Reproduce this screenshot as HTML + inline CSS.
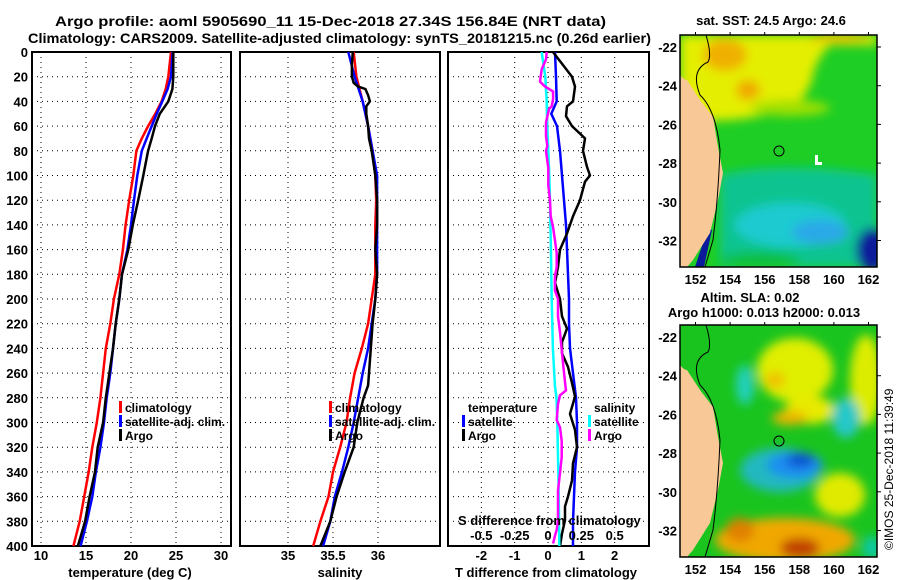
<!DOCTYPE html>
<html><head><meta charset="utf-8"><style>
html,body{margin:0;padding:0;background:#fff;}
svg{display:block;font-family:"Liberation Sans",sans-serif;font-weight:bold;}
</style></head><body>
<svg id="fig" width="900" height="580" viewBox="0 0 900 580" xmlns="http://www.w3.org/2000/svg">
<defs>
<filter id="bl" x="-20%" y="-20%" width="140%" height="140%"><feGaussianBlur stdDeviation="5"/></filter>
<clipPath id="c1"><rect x="680" y="35" width="197" height="232"/></clipPath>
<clipPath id="c2"><rect x="680" y="325" width="197" height="232"/></clipPath>
</defs>
<text x="55" y="26" font-size="14" textLength="551" lengthAdjust="spacingAndGlyphs">Argo profile: aoml 5905690_11 15-Dec-2018 27.34S 156.84E (NRT data)</text>
<text x="28" y="43" font-size="14" textLength="623" lengthAdjust="spacingAndGlyphs">Climatology: CARS2009. Satellite-adjusted climatology: synTS_20181215.nc (0.26d earlier)</text>

<g clip-path="url(#c1)">
<rect x="680" y="35" width="197" height="232" fill="#1ece24"/>
<g filter="url(#bl)">
<path d="M680 35 H877 V45 H830 Q815 60 812 80 Q805 100 790 108 Q760 118 730 120 L680 122 Z" fill="#e4ee00"/>
<ellipse cx="725" cy="55" rx="22" ry="16" fill="#f0b000"/>
<ellipse cx="748" cy="90" rx="12" ry="10" fill="#f0a800"/>
<ellipse cx="840" cy="38" rx="30" ry="5" fill="#f0c000"/>
<ellipse cx="790" cy="108" rx="40" ry="8" fill="#a0e000"/>
<path d="M720 175 Q780 160 877 175 V267 H720 Z" fill="#10c490"/>
<ellipse cx="790" cy="225" rx="55" ry="22" fill="#1ccad0"/>
<ellipse cx="820" cy="232" rx="28" ry="12" fill="#2aa8e8"/>
<ellipse cx="872" cy="250" rx="16" ry="22" fill="#0a1a9a"/>
<ellipse cx="760" cy="260" rx="40" ry="8" fill="#10c040"/>
</g>
<path d="M712 230 L704 267 L695 267 L708 228 Z" fill="#0a1a9a"/>
<path d="M680 75 Q684 80 687 80 L700 100 L713 117 L718 147 L723 173 L718 200 L710 233 L693 260 L687 267 H680 Z" fill="#f8c896"/>
<path d="M706 35 Q712 55 708 62 Q690 70 700 95 Q716 110 720 150 Q718 200 713 240 L705 267" fill="none" stroke="#000" stroke-width="1"/>
<circle cx="779" cy="151" r="5" fill="none" stroke="#000" stroke-width="1"/>
<rect x="815" y="155" width="3" height="10" fill="#fff"/><rect x="815" y="162" width="7" height="3" fill="#fff"/>
</g>
<rect x="680" y="35" width="197" height="232" fill="none" stroke="#000" stroke-width="1.5"/>
<text x="771" y="25" font-size="13" text-anchor="middle">sat. SST: 24.5 Argo: 24.6</text>

<g clip-path="url(#c2)">
<rect x="680" y="325" width="197" height="232" fill="#1ac41e"/>
<g filter="url(#bl)">
<ellipse cx="795" cy="370" rx="38" ry="32" fill="#e0ee00"/>
<ellipse cx="810" cy="410" rx="25" ry="14" fill="#e8ea00"/>
<ellipse cx="790" cy="418" rx="18" ry="7" fill="#f0b400"/>
<ellipse cx="775" cy="380" rx="10" ry="8" fill="#f0c000"/>
<ellipse cx="866" cy="380" rx="16" ry="45" fill="#dcec00"/>
<ellipse cx="840" cy="495" rx="25" ry="22" fill="#e0ea00"/>
<ellipse cx="745" cy="385" rx="9" ry="20" fill="#22d0bc"/>
<ellipse cx="846" cy="418" rx="14" ry="20" fill="#28c8c8"/>
<ellipse cx="780" cy="470" rx="40" ry="22" fill="#20b8c0"/>
<ellipse cx="795" cy="465" rx="28" ry="13" fill="#1e8ef0"/>
<ellipse cx="800" cy="460" rx="14" ry="7" fill="#1050d0"/>
<ellipse cx="785" cy="540" rx="70" ry="22" fill="#f0a800"/>
<ellipse cx="800" cy="548" rx="20" ry="10" fill="#c04000"/>
<ellipse cx="740" cy="530" rx="14" ry="12" fill="#e08000"/>
<ellipse cx="872" cy="548" rx="10" ry="12" fill="#10c8a0"/>
</g>
<path d="M680 365 Q684 370 687 370 L700 390 L713 407 L718 437 L723 463 L718 490 L710 523 L693 550 L687 557 H680 Z" fill="#f8c896"/>
<path d="M706 325 Q712 345 708 352 Q690 360 700 385 Q716 400 720 440 Q718 490 713 530 L705 557" fill="none" stroke="#000" stroke-width="1"/>
<circle cx="779" cy="441" r="5" fill="none" stroke="#000" stroke-width="1"/>
</g>
<rect x="680" y="325" width="197" height="232" fill="none" stroke="#000" stroke-width="1.5"/>
<text x="750" y="302" font-size="13" text-anchor="middle">Altim. SLA: 0.02</text>
<text x="764" y="317" font-size="13" text-anchor="middle">Argo h1000: 0.013 h2000: 0.013</text>
<text transform="translate(893,550) rotate(-90)" font-size="12" font-weight="normal">©IMOS 25-Dec-2018 11:39:49</text>
</svg>
<script>
const depthTicks = [0,20,40,60,80,100,120,140,160,180,200,220,240,260,280,300,320,340,360,380,400];
const tempTicks = [10,15,20,25,30];
const salTicks = [35,35.5,36];
const tDiffTicks = [-2,-1,0,1,2];
const sDiffTicks = [-0.5,-0.25,0,0.25,0.5];

const tDepths = [0,20,30,40,50,60,70,80,100,120,140,160,180,200,220,240,260,280,300,320,340,360,380,400];
const tempClim = [24.44,24.15,23.85,23.4,22.7,21.9,21.2,20.6,20.26,19.8,19.4,19.1,18.7,18.1,17.7,17.2,16.9,16.6,16.2,15.7,15.3,14.8,14.3,13.6];
const tempSat = [24.63,24.44,24.07,23.48,22.85,22.3,21.74,21.2,20.7,20.33,20.0,19.6,19.0,18.7,18.3,18.0,17.7,17.3,17.0,16.6,16.1,15.7,15.1,14.4];
const tempArgo = [24.7,24.7,24.6,24.15,23.2,22.67,22.3,21.9,21.37,20.8,20.2,19.7,19.0,18.7,18.3,18.0,17.6,17.2,16.9,16.3,16.0,15.4,14.9,14.1];

const sDepths = [0,20,40,60,80,100,120,140,160,180,200,220,240,260,280,300,320,340,360,380,400];
const salClim = [35.73,35.76,35.83,35.89,35.94,35.97,35.98,35.97,35.97,35.97,35.93,35.89,35.82,35.74,35.69,35.65,35.58,35.5,35.45,35.36,35.28];
const salSat = [35.67,35.74,35.83,35.89,35.94,35.99,35.99,35.99,35.99,35.99,35.97,35.93,35.89,35.83,35.78,35.73,35.67,35.6,35.52,35.47,35.39];
const sArgoDepths = [0,10,20,25,28,30,35,40,44,50,60,70,80,100,120,140,160,180,200,220,240,260,270,280,300,320,340,360,380,400];
const salArgo = [35.72,35.71,35.71,35.73,35.78,35.86,35.89,35.91,35.87,35.87,35.89,35.9,35.93,35.97,35.99,35.99,35.97,35.99,35.97,35.94,35.92,35.9,35.89,35.84,35.77,35.73,35.63,35.54,35.47,35.36];

const tDiffSatDepths = [0,20,40,50,60,80,100,120,140,160,180,200,220,240,260,280,300,320,340,360,380,400];
const tDiffSat = [0.21,0.24,0.26,0.1,0.27,0.36,0.42,0.48,0.54,0.57,0.6,0.63,0.63,0.66,0.75,0.84,0.87,0.87,0.81,0.78,0.75,0.75];
const tDiffArgoDepths = [0,20,28,40,44,52,60,70,80,93,100,105,120,133,140,147,160,174,187,200,214,224,235,244,255,268,279,293,306,320,333,347,360,368,379,390,400];
const tDiffArgo = [0.15,0.72,0.81,0.75,0.57,0.54,0.72,1.11,1.05,1.17,1.26,1.11,0.96,0.75,0.66,0.57,0.36,0.3,0.21,0.36,0.42,0.57,0.42,0.42,0.6,0.72,0.81,0.66,0.81,0.87,0.75,0.72,0.6,0.51,0.51,0.42,0.36];
const sDiffSatDepths = [0,20,40,60,80,100,120,160,200,240,270,280,300,340,380,400];
const sDiffSat = [-0.047,-0.02,-0.01,-0.005,0.002,0.01,0.015,0.022,0.028,0.037,0.052,0.064,0.07,0.077,0.083,0.085];
const sDiffArgoDepths = [0,6,14,24,28,32,38,44,46,57,68,76,80,94,108,120,133,142,152,163,174,182,193,200,214,227,241,254,268,274,278,285,298,304,315,328,341,355,368,379,387,392,398];
const sDiffArgo = [-0.01,-0.015,-0.047,-0.06,-0.022,0.038,0.038,0.028,0.008,-0.015,-0.015,-0.005,-0.015,0.002,0.002,0.015,0.02,0.038,0.052,0.065,0.065,0.052,0.052,0.075,0.075,0.09,0.103,0.115,0.128,0.135,0.09,0.075,0.065,0.09,0.103,0.103,0.09,0.075,0.075,0.075,0.065,0.052,0.038];

const mapLatTicks = [-22,-24,-26,-28,-30,-32];
const mapLonTicks = [152,154,156,158,160,162];

const NS = 'http://www.w3.org/2000/svg';
const svg = document.getElementById('fig');
const Y0 = 52, Y1 = 546;
function yD(d){ return Y0 + d * (Y1 - Y0) / 400; }
function xT(t){ return 41 + (t - 10) * 9; }
function xS(s){ return 288 + (s - 35) * 90; }
function xDT(v){ return 548 + v * 33.33; }
function xDS(v){ return 548 + v * 133.33; }
function latY(lat, top){ return top + 12 + (-22 - lat) * 19.35; }
function lonX(lon){ return 695.5 + (lon - 152) * 17.3; }

function mk(tag, attrs, parent){
  const e = document.createElementNS(NS, tag);
  for (const k in attrs) e.setAttribute(k, attrs[k]);
  (parent || svg).appendChild(e);
  return e;
}
function txt(x, y, s, size, anchor, parent){
  const t = mk('text', {x: x, y: y, 'font-size': size, 'text-anchor': anchor}, parent);
  t.textContent = s;
  return t;
}

const panels = [
  {x0: 32, x1: 231, name: 'temperature-panel', ticks: tempTicks, fx: xT, title: 'temperature (deg C)', tx: 130},
  {x0: 240, x1: 440, name: 'salinity-panel', ticks: salTicks, fx: xS, title: 'salinity', tx: 340},
  {x0: 448, x1: 649, name: 'difference-panel', ticks: tDiffTicks, fx: xDT, title: 'T difference from climatology', tx: 546}
];
panels.forEach(function(p){
  const g = mk('g', {});
  
  
  depthTicks.forEach(function(d){
    if (d === 0 || d === 400) return;
    const l = mk('line', {x1: p.x0, x2: p.x1, y1: yD(d), y2: yD(d), stroke: '#000', 'stroke-width': 1, 'stroke-dasharray': '1 4'}, g);
    
    
  });
  p.ticks.forEach(function(t){
    const x = p.fx(t);
    const l = mk('line', {x1: x, x2: x, y1: Y0, y2: Y1, stroke: '#000', 'stroke-width': 1, 'stroke-dasharray': '1 4'}, g);
    
    
    const lb = txt(x, 560, String(t), 13, 'middle', g);
    
    
  });
  const r = mk('rect', {x: p.x0, y: Y0, width: p.x1 - p.x0, height: Y1 - Y0, fill: 'none', stroke: '#000', 'stroke-width': 2}, g);
  
  
  const at = txt(p.tx, 577, p.title, 13, 'middle', g);
  
  
});
depthTicks.forEach(function(d){
  const lb = txt(28, yD(d) + 5, String(d), 13, 'end');
  
  
});

function series(depths, vals, fx, color, w, name){
  const pts = depths.map(function(d, i){ return fx(vals[i]).toFixed(1) + ',' + yD(d).toFixed(1); }).join(' ');
  const pl = mk('polyline', {points: pts, fill: 'none', stroke: color, 'stroke-width': w, 'stroke-linejoin': 'round'});
  
  
}
series(tDepths, tempClim, xT, '#ff0000', 2.5, 'temperature-climatology-line');
series(tDepths, tempSat, xT, '#0000ff', 2.5, 'temperature-satellite-line');
series(tDepths, tempArgo, xT, '#000000', 2.5, 'temperature-argo-line');
series(sDepths, salClim, xS, '#ff0000', 2.5, 'salinity-climatology-line');
series(sDepths, salSat, xS, '#0000ff', 2.5, 'salinity-satellite-line');
series(sArgoDepths, salArgo, xS, '#000000', 2.5, 'salinity-argo-line');
series(tDiffSatDepths, tDiffSat, xDT, '#0000ff', 2.5, 't-diff-satellite-line');
series(tDiffArgoDepths, tDiffArgo, xDT, '#000000', 2.5, 't-diff-argo-line');
series(sDiffSatDepths, sDiffSat, xDS, '#00ffff', 2.5, 's-diff-satellite-line');
series(sDiffArgoDepths, sDiffArgo, xDS, '#ff00ff', 2.5, 's-diff-argo-line');

function legend(x, y, color, label){
  const g = mk('g', {});
  
  
  if (color) mk('rect', {x: x - 6, y: y - 11, width: 3, height: 12, fill: color}, g);
  txt(x, y, label, 12, 'start', g);
}
legend(125, 412, '#ff0000', 'climatology');
legend(125, 426, '#0000ff', 'satellite-adj. clim.');
legend(125, 440, '#000000', 'Argo');
legend(335, 412, '#ff0000', 'climatology');
legend(335, 426, '#0000ff', 'satellite-adj. clim.');
legend(335, 440, '#000000', 'Argo');
legend(468, 412, null, 'temperature');
legend(468, 426, '#0000ff', 'satellite');
legend(468, 440, '#000000', 'Argo');
legend(594, 412, null, 'salinity');
legend(594, 426, '#00ffff', 'satellite');
legend(594, 440, '#ff00ff', 'Argo');

const st = txt(458, 525, 'S difference from climatology', 13, 'start');


sDiffTicks.forEach(function(v){
  const lb = txt(xDS(v), 540, String(v), 13, 'middle');
  
  
});

[35, 325].forEach(function(top){
  mapLatTicks.forEach(function(lat){
    const y = latY(lat, top);
    const lb = txt(677, y + 5, String(lat), 13, 'end');
    
    
    mk('line', {x1: 877, x2: 881, y1: y, y2: y, stroke: '#000', 'stroke-width': 1});
  });
  mapLonTicks.forEach(function(lon){
    const x = lonX(lon);
    mk('line', {x1: x, x2: x, y1: top, y2: top - 3, stroke: '#000', 'stroke-width': 1});
    const lb = txt(x, top + 232 + 17, String(lon), 13, 'middle');
    
    
  });
});
</script>
</body></html>
